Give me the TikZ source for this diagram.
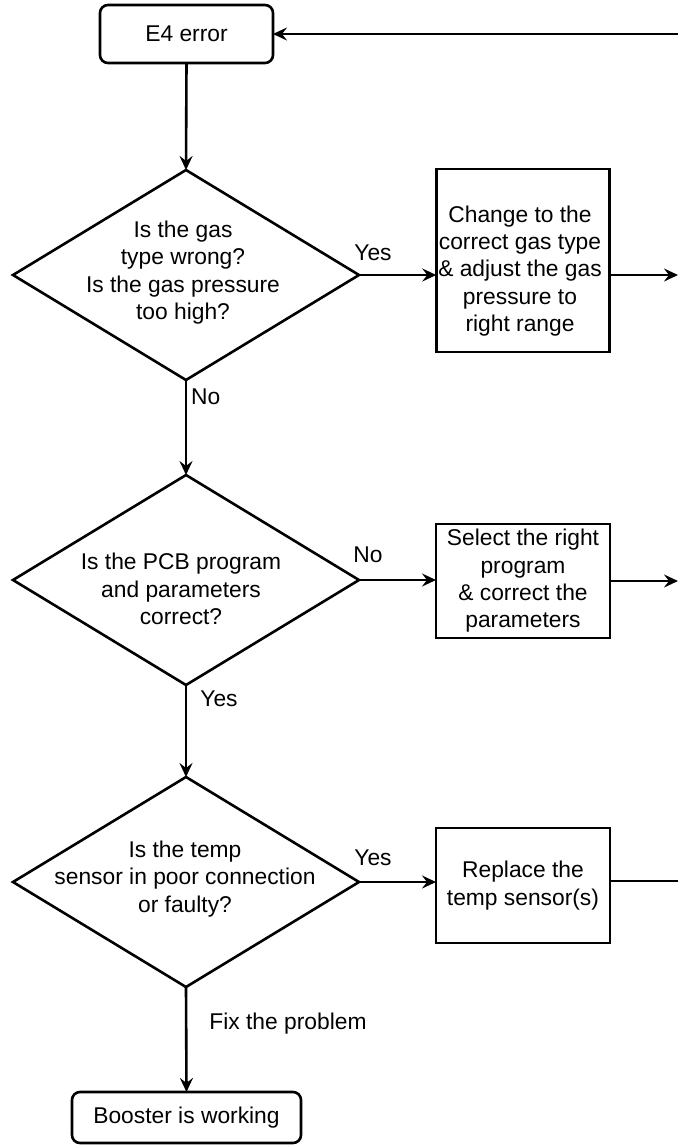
\documentclass[tikz,border=0pt]{standalone}
\usepackage{fontspec}
\setmainfont{Liberation Sans}
\usetikzlibrary{arrows.meta,shapes.geometric}
\begin{document}
\begin{tikzpicture}[x=1pt,y=-1pt,
  every node/.style={font=\fontsize{22.8}{27.3}\selectfont},
  box/.style={draw,line width=2.6pt,rectangle,inner sep=0pt,outer sep=0pt,align=center},
  term/.style={box,rounded corners=8pt},
  dia/.style={draw,line width=2.6pt,diamond,inner sep=0pt,outer sep=0pt,minimum width=346pt,minimum height=210pt},
  txt/.style={align=center,inner sep=0pt},
  lbl/.style={inner sep=0pt},
  conn/.style={line width=2.6pt,-{Stealth[length=14pt,width=13pt,inset=5pt]}},
  plainline/.style={line width=2.6pt}]
\useasboundingbox (0,0) rectangle (678,1146);

% terminals
\node[term,minimum width=173pt,minimum height=58pt] (e4) at (186.5,34) {E4 error};
\node[term,minimum width=229pt,minimum height=51pt] (ok) at (186.5,1117.5) {Booster is working};

% decisions
\node[dia] (d1) at (186,275) {};
\node[txt] (t1) at (183,272.5) {Is the gas\\type wrong?\\Is the gas pressure\\too high?};
\node[dia] (d2) at (186,580) {};
\node[txt] (t2) at (181,589) {Is the PCB program\\and parameters\\correct?};
\node[dia] (d3) at (186,882) {};
\node[txt] (t3) at (185,879) {Is the temp\\sensor in poor connection\\or faulty?};

% actions
\node[box,minimum width=173pt,minimum height=183pt] (b1) at (522.75,260.5) {};
\node[txt] (bt1) at (520,271) {Change to the\\correct gas type\\\& adjust the gas\\pressure to\\right range};
\node[box,minimum width=174pt,minimum height=114pt] (b2) at (523,581) {Select the right\\program\\\& correct the\\parameters};
\node[box,minimum width=174pt,minimum height=115pt] (b3) at (523,885.5) {Replace the\\temp sensor(s)};

% labels
\node[lbl] (l1) at (373,253) {Yes};
\node[lbl,anchor=west] (l2) at (191,397) {No};
\node[lbl] (l3) at (368,555) {No};
\node[lbl] (l4) at (219,699) {Yes};
\node[lbl] (l5) at (373,858) {Yes};
\node[lbl] (l6) at (288,1024) {Fix the problem};

% free ends at right edge
\coordinate (r0) at (678,34);
\coordinate (r1) at (678,275);
\coordinate (r2) at (678,581);
\coordinate (r3) at (678,881);

% connectors
\draw[conn] (e4.south) -- (d1.north);
\draw[conn] (d1.south) -- (d2.north);
\draw[conn] (d2.south) -- (d3.north);
\draw[conn] (d3.south) -- (ok.north);
\draw[conn] (d1.east) -- (d1.east -| b1.west);
\draw[conn] (d2.east) -- (d2.east -| b2.west);
\draw[conn] (d3.east) -- (d3.east -| b3.west);
\draw[conn] (b1.east |- r1) -- (r1);
\draw[conn] (b2.east |- r2) -- (r2);
\draw[plainline] (b3.east |- r3) -- (r3);
\draw[conn] (r0) -- (e4.east);
\end{tikzpicture}
\end{document}
